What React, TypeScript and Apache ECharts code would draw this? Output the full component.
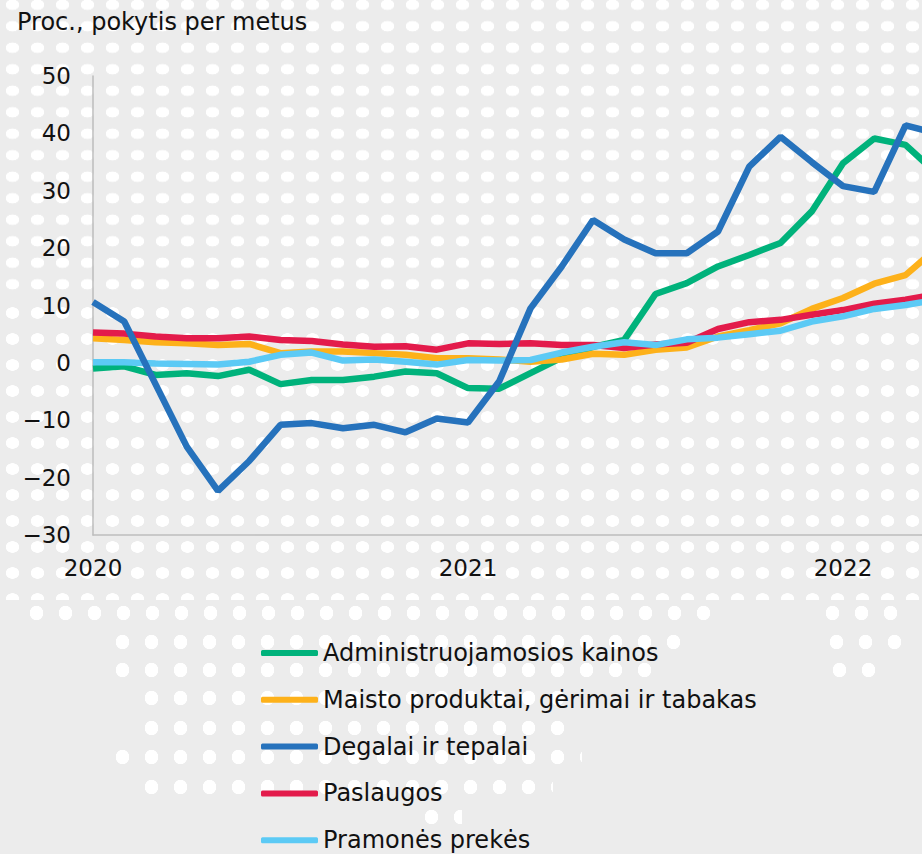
import React, { useEffect, useRef } from "react";
import * as echarts from "echarts";

// ---- data ----
const months = [
  "2020-01", "2020-02", "2020-03", "2020-04", "2020-05", "2020-06",
  "2020-07", "2020-08", "2020-09", "2020-10", "2020-11", "2020-12",
  "2021-01", "2021-02", "2021-03", "2021-04", "2021-05", "2021-06",
  "2021-07", "2021-08", "2021-09", "2021-10", "2021-11", "2021-12",
  "2022-01", "2022-02", "2022-03", "2022-04",
];

const administruojamosiosKainos = [
  -1.0, -0.6, -2.1, -1.8, -2.3, -1.2, -3.7, -3.0, -3.0, -2.4, -1.5, -1.8,
  -4.4, -4.5, -1.8, 0.9, 2.8, 4.0, 12.0, 13.9, 16.8, 18.8, 20.9, 26.4,
  34.8, 39.1, 38.0, 33.0,
];

const maistoProduktai = [
  4.3, 4.0, 3.6, 3.4, 3.1, 3.3, 1.7, 2.0, 2.0, 1.7, 1.4, 0.8,
  0.8, 0.6, 0.2, 0.6, 1.6, 1.4, 2.3, 2.7, 4.6, 5.7, 6.9, 9.4,
  11.3, 13.8, 15.3, 20.0,
];

const degalaiIrTepalai = [
  10.6, 7.2, -3.7, -14.6, -22.3, -17.1, -10.8, -10.5, -11.4, -10.8, -12.1, -9.7,
  -10.4, -3.2, 9.5, 16.8, 24.9, 21.5, 19.1, 19.1, 22.9, 34.2, 39.4, 35.0,
  30.8, 29.8, 41.4, 40.0,
];

const paslaugos = [
  5.3, 5.1, 4.6, 4.3, 4.3, 4.6, 4.0, 3.8, 3.2, 2.8, 2.9, 2.3,
  3.4, 3.3, 3.4, 3.1, 3.1, 2.6, 3.2, 3.5, 5.9, 7.1, 7.5, 8.4,
  9.2, 10.3, 11.0, 12.0,
];

const pramonesPrekes = [
  0.1, 0.1, -0.1, -0.2, -0.3, 0.2, 1.4, 1.8, 0.4, 0.6, 0.2, -0.3,
  0.5, 0.4, 0.5, 1.8, 2.8, 3.6, 3.1, 4.1, 4.4, 5.0, 5.6, 7.2,
  8.1, 9.4, 10.1, 11.0,
];

const seriesNames = [
  "Administruojamosios kainos",
  "Maisto produktai, gėrimai ir tabakas",
  "Degalai ir tepalai",
  "Paslaugos",
  "Pramonės prekės",
];
const seriesValues = [
  administruojamosiosKainos,
  maistoProduktai,
  degalaiIrTepalai,
  paslaugos,
  pramonesPrekes,
];
const seriesColors = ["#00b27b", "#fdb11a", "#2672bc", "#e31b4b", "#5ccaf5"];
const seriesZ = [2, 3, 6, 4, 5];

const yMin = -30;
const yMax = 50;
const yStep = 10;
const titleText = "Proc., pokytis per metus";

const FONT = "'DejaVu Sans', Verdana, sans-serif";

const CHART_W = 960;
const CHART_H = 920;

// ---- decorative dotted background (not data) ----
const dotZones = [
  { left: 0, top: 0, width: 922, height: 300, sx: 25, sy: 21.5, rx: 7, ry: 5.5, ox: 0, oy: -6 },
  { left: 0, top: 300, width: 922, height: 300, sx: 25, sy: 26, rx: 7, ry: 6, ox: 0, oy: 0 },
];
const dotRows = [
  { y: 613, x0: 22, x1: 725 },
  { y: 613, x0: 818, x1: 900 },
  { y: 642, x0: 108, x1: 695 },
  { y: 642, x0: 822, x1: 906 },
  { y: 670, x0: 108, x1: 666 },
  { y: 670, x0: 825, x1: 876 },
  { y: 698, x0: 137, x1: 570 },
  { y: 728, x0: 137, x1: 580 },
  { y: 757, x0: 108, x1: 582 },
  { y: 787, x0: 137, x1: 553 },
  { y: 817, x0: 417, x1: 462 },
];

function dotStyle(sx: number, sy: number, rx: number, ry: number) {
  return {
    backgroundImage: `radial-gradient(ellipse ${rx}px ${ry}px at ${sx / 2}px ${sy / 2}px, #ffffff 92%, rgba(255,255,255,0) 100%)`,
    backgroundSize: `${sx}px ${sy}px`,
  };
}

export default function App() {
  const ref = useRef<HTMLDivElement>(null);

  useEffect(() => {
    if (!ref.current) return;
    const chart = echarts.init(ref.current, undefined, { renderer: "svg" });
    chart.setOption({
      animation: false,
      backgroundColor: "transparent",
      title: {
        text: titleText,
        left: 17,
        top: 10,
        padding: 0,
        textStyle: {
          fontFamily: FONT,
          fontSize: 24,
          fontWeight: "normal",
          color: "#111",
          lineHeight: 24,
        },
      },
      grid: {
        left: 93,
        top: 76,
        bottom: CHART_H - 535,
        right: CHART_W - 936.75,
        containLabel: false,
      },
      legend: {
        orient: "vertical",
        left: 261,
        top: 641,
        padding: 0,
        itemGap: 22.8,
        itemWidth: 57,
        itemHeight: 6,
        icon: "roundRect",
        data: seriesNames,
        textStyle: {
          fontFamily: FONT,
          fontSize: 24,
          lineHeight: 24,
          color: "#111",
        },
      },
      xAxis: {
        type: "category",
        data: months,
        boundaryGap: false,
        axisLine: { show: true, onZero: false, lineStyle: { color: "#bdbdbd", width: 1.5 } },
        axisTick: { show: false },
        splitLine: { show: false },
        axisLabel: {
          interval: (i: number) => i % 12 === 0,
          formatter: (v: string) => v.slice(0, 4),
          fontFamily: FONT,
          fontSize: 23,
          color: "#111",
          margin: 21,
        },
      },
      yAxis: {
        type: "value",
        min: yMin,
        max: yMax,
        interval: yStep,
        axisLine: { show: true, lineStyle: { color: "#bdbdbd", width: 1.5 } },
        axisTick: { show: false },
        splitLine: { show: false },
        axisLabel: {
          formatter: (v: number) => String(v).replace("-", "\u2212"),
          fontFamily: FONT,
          fontSize: 23,
          color: "#111",
          margin: 22,
        },
      },
      series: seriesNames.map((name, k) => ({
        name,
        type: "line",
        data: seriesValues[k],
        symbol: "none",
        z: seriesZ[k],
        color: seriesColors[k],
        lineStyle: { width: 6.5, color: seriesColors[k] },
        itemStyle: { color: seriesColors[k] },
      })),
    });
    return () => chart.dispose();
  }, []);

  return (
    <div
      style={{
        position: "absolute",
        left: 0,
        top: 0,
        width: 922,
        height: 854,
        overflow: "hidden",
        background: "#ececec",
      }}
    >
      {dotZones.map((z, i) => (
        <div
          key={"z" + i}
          style={{
            position: "absolute",
            left: z.left,
            top: z.top,
            width: z.width,
            height: z.height,
            ...dotStyle(z.sx, z.sy, z.rx, z.ry),
            backgroundPosition: `${z.ox}px ${z.oy}px`,
          }}
        />
      ))}
      {dotRows.map((r, i) => (
        <div
          key={"r" + i}
          style={{
            position: "absolute",
            left: r.x0,
            top: r.y - 8,
            width: r.x1 - r.x0,
            height: 16,
            ...dotStyle(29, 16, 7, 7.5),
            backgroundRepeat: "repeat-x",
          }}
        />
      ))}
      <div
        ref={ref}
        style={{ position: "absolute", left: 0, top: 0, width: CHART_W, height: CHART_H }}
      />
    </div>
  );
}
